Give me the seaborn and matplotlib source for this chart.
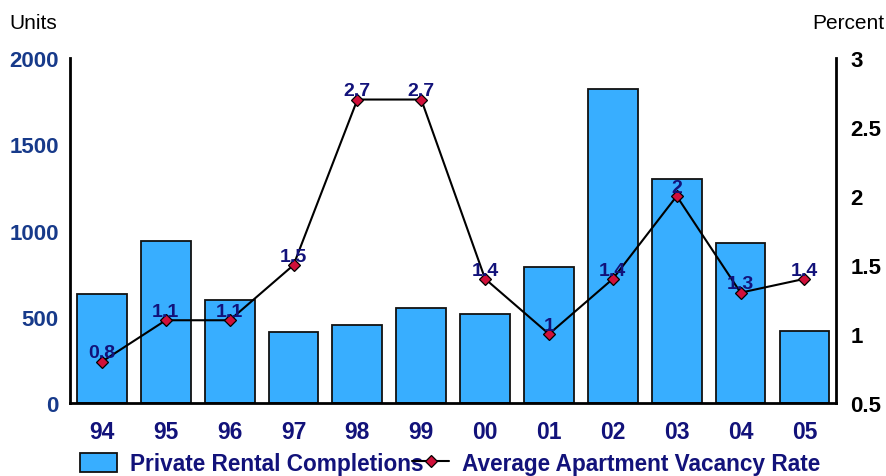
import matplotlib
matplotlib.use("Agg")
import matplotlib.pyplot as plt
import seaborn as sns
import numpy as np
import pandas as pd

years = ["94", "95", "96", "97", "98", "99", "00", "01", "02", "03", "04", "05"]
completions = [630, 940, 600, 410, 455, 550, 515, 790, 1820, 1300, 930, 420]
vacancy = [0.8, 1.1, 1.1, 1.5, 2.7, 2.7, 1.4, 1.0, 1.4, 2.0, 1.3, 1.4]
vacancy_labels = ["0.8", "1.1", "1.1", "1.5", "2.7", "2.7", "1.4", "1", "1.4", "2", "1.3", "1.4"]
left_ticks = [0, 500, 1000, 1500, 2000]
right_ticks = [0.5, 1, 1.5, 2, 2.5, 3]
right_tick_labels = ["0.5", "1", "1.5", "2", "2.5", "3"]

sns.set_theme(style="white")
plt.rcParams["font.family"] = ["Liberation Sans", "DejaVu Sans"]

BAR = "#38AEFF"
NAVY = "#12127A"
LEFT_TXT = "#173A8A"

df = pd.DataFrame({"year": years, "completions": completions, "vacancy": vacancy})

fig = plt.figure(figsize=(8.86, 4.77), dpi=100)
ax = fig.add_axes([0.079, 0.153, 0.865, 0.723])

sns.barplot(data=df, x="year", y="completions", color=BAR, saturation=1,
            edgecolor="#111111", linewidth=1.3, width=0.78, ax=ax, label="Private Rental Completions")
ax.set_xlim(-0.5, 11.5)
ax.set_ylim(0, 2000)
ax.set_yticks(left_ticks)
ax.set_yticklabels([str(t) for t in left_ticks], fontsize=16, fontweight="bold", color=LEFT_TXT)
ax.tick_params(axis="y", length=0, pad=8)
ax.tick_params(axis="x", length=0, pad=12)
for lab in ax.get_xticklabels():
    lab.set_fontsize(16.5)
    lab.set_fontweight("bold")
    lab.set_color(NAVY)
ax.set_xlabel("")
ax.set_ylabel("")

ax2 = ax.twinx()
sns.lineplot(x=np.arange(len(years)), y=vacancy, ax=ax2, color="black", linewidth=1.5,
             marker="D", markersize=6, markerfacecolor="#D0103A", markeredgecolor="black",
             markeredgewidth=0.9, label="Average Apartment Vacancy Rate")
ax2.set_ylim(0.5, 3)
ax2.set_yticks(right_ticks)
ax2.set_yticklabels(right_tick_labels, fontsize=16, fontweight="bold", color="black")
ax2.tick_params(axis="y", length=0, pad=10)
ax2.set_ylabel("")

for i, (v, t) in enumerate(zip(vacancy, vacancy_labels)):
    ax2.annotate(t, (i, v), xytext=(0, 3), textcoords="offset points",
                 ha="center", va="baseline", fontsize=14, fontweight="bold", color=NAVY)

for a in (ax, ax2):
    a.spines["top"].set_visible(False)
    for s in ("left", "right", "bottom"):
        a.spines[s].set_color("black")
        a.spines[s].set_linewidth(2)
ax.spines["right"].set_visible(False)
ax2.spines["bottom"].set_visible(False)
ax2.spines["left"].set_visible(False)

fig.text(0.011, 0.93, "Units", fontsize=15, color="black", ha="left", va="bottom")
fig.text(0.998, 0.93, "Percent", fontsize=15, color="black", ha="right", va="bottom")

h1, l1 = ax.get_legend_handles_labels()
h2, l2 = ax2.get_legend_handles_labels()
if ax.get_legend():
    ax.get_legend().remove()
if ax2.get_legend():
    ax2.get_legend().remove()
leg = fig.legend(h1 + h2, l1 + l2, loc="center", bbox_to_anchor=(0.508, 0.026), ncol=2,
                 frameon=False, fontsize=16.3, handlelength=1.65, handleheight=0.95,
                 columnspacing=-0.5, handletextpad=0.55, borderaxespad=0)
for txt in leg.get_texts():
    txt.set_fontweight("bold")
    txt.set_color(NAVY)

fig.savefig("out.png", dpi=100, facecolor="white")
